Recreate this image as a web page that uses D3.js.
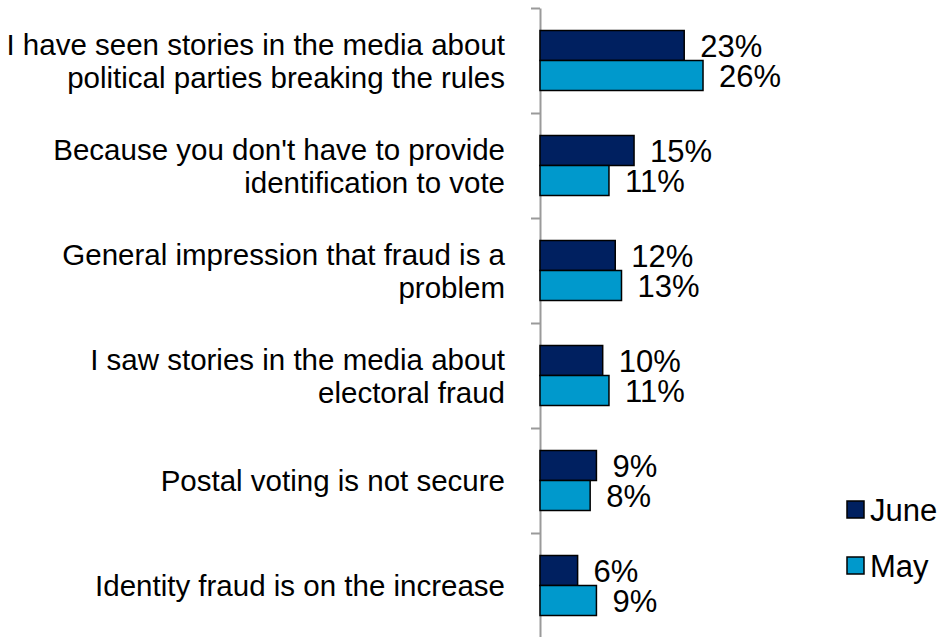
<!DOCTYPE html>
<html>
  <head>
    <script src="https://d3js.org/d3.v7.min.js"></script>
    <style>
      body { margin: 0; background: #fff; }
      text { font-family: "Liberation Sans", Arial, sans-serif; fill: #000; }
    </style>
  </head>
  <body>
    <div id="chart"></div>
    <script>
      const categories = [
        ["I have seen stories in the media about", "political parties breaking the rules"],
        ["Because you don't have to provide", "identification to vote"],
        ["General impression that fraud is a", "problem"],
        ["I saw stories in the media about", "electoral fraud"],
        ["Postal voting is not secure"],
        ["Identity fraud is on the increase"],
      ];
      const seriesNames = ["June", "May"];
      const june = [23, 15, 12, 10, 9, 6];
      const may = [26, 11, 13, 11, 8, 9];
      const colors = { June: "#002060", May: "#0099cc" };

      const W = 941, H = 637;
      const catFs = 29.5, valFs = 31, legFs = 31;

      const svg = d3.select("#chart").append("svg")
        .attr("width", W).attr("height", H);

      const idx = d3.range(categories.length);
      const x = d3.scaleLinear().domain([0, 60]).range([540, 540 + 6.27 * 60]);
      const y = d3.scaleBand().domain(idx).range([8, 638]);
      const ySub = d3.scaleBand().domain(seriesNames)
        .range([y.bandwidth() * 0.2143, y.bandwidth() * 0.7857]);

      // axis with ticks between categories
      const yEdge = d3.scaleLinear().domain([0, categories.length]).range([8, 638]);
      const axis = svg.append("g")
        .attr("transform", `translate(${x(0)},0)`)
        .call(d3.axisLeft(yEdge).tickValues(d3.range(categories.length + 1))
          .tickFormat("").tickSize(9).tickSizeOuter(0));
      axis.selectAll("path, line").attr("stroke", "#9a9a9a").attr("stroke-width", 2);

      const rows = idx.map(i => ({ i, June: june[i], May: may[i] }));

      const g = svg.append("g").selectAll("g").data(rows).join("g")
        .attr("transform", d => `translate(0,${y(d.i)})`);

      g.selectAll("rect").data(d => seriesNames.map(s => ({ s, v: d[s] })))
        .join("rect")
        .attr("x", x(0))
        .attr("y", d => ySub(d.s))
        .attr("width", d => x(d.v) - x(0))
        .attr("height", ySub.bandwidth())
        .attr("fill", d => colors[d.s])
        .attr("stroke", "#000")
        .attr("stroke-width", 1.5);

      g.selectAll("text.val").data(d => seriesNames.map(s => ({ s, v: d[s] })))
        .join("text")
        .attr("class", "val")
        .attr("x", d => x(d.v) + 16)
        .attr("y", d => ySub(d.s) + ySub.bandwidth() / 2 + 1)
        .attr("dominant-baseline", "central")
        .style("font-size", valFs + "px")
        .text(d => d.v + "%");

      // category labels
      const lh = 33;
      g.append("text")
        .attr("text-anchor", "end")
        .style("font-size", catFs + "px")
        .each(function (d) {
          const lines = categories[d.i];
          const t = d3.select(this);
          lines.forEach((ln, k) => {
            t.append("tspan")
              .attr("x", 505)
              .attr("y", y.bandwidth() / 2 + (k - (lines.length - 1) / 2) * lh)
              .attr("dominant-baseline", "central")
              .text(ln);
          });
        });

      // legend
      const leg = svg.append("g").selectAll("g").data(seriesNames).join("g")
        .attr("transform", (d, i) => `translate(847,${501 + i * 56})`);
      leg.append("rect")
        .attr("width", 17).attr("height", 17)
        .attr("fill", d => colors[d])
        .attr("stroke", "#000").attr("stroke-width", 1.5);
      leg.append("text")
        .attr("x", 23).attr("y", 9.5)
        .attr("dominant-baseline", "central")
        .style("font-size", legFs + "px")
        .text(d => d);
    </script>
  </body>
</html>
